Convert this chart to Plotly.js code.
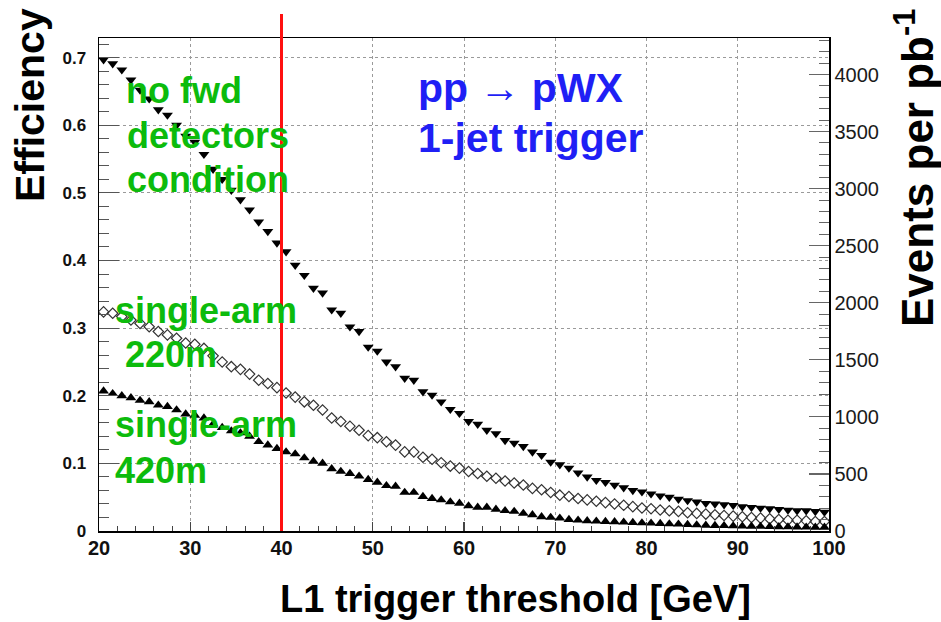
<!DOCTYPE html>
<html>
<head>
<meta charset="utf-8">
<script src="https://cdn.plot.ly/plotly-3.0.1.min.js"></script>
<style>
html,body{margin:0;padding:0;background:#fff;}
#chart{width:941px;height:622px;}
</style>
</head>
<body>
<div id="chart"></div>
<script>
// L1 trigger threshold bin centres [GeV]
const thresholds = [20.5,21.5,22.5,23.5,24.5,25.5,26.5,27.5,28.5,29.5,
  30.5,31.5,32.5,33.5,34.5,35.5,36.5,37.5,38.5,39.5,
  40.5,41.5,42.5,43.5,44.5,45.5,46.5,47.5,48.5,49.5,
  50.5,51.5,52.5,53.5,54.5,55.5,56.5,57.5,58.5,59.5,
  60.5,61.5,62.5,63.5,64.5,65.5,66.5,67.5,68.5,69.5,
  70.5,71.5,72.5,73.5,74.5,75.5,76.5,77.5,78.5,79.5,
  80.5,81.5,82.5,83.5,84.5,85.5,86.5,87.5,88.5,89.5,
  90.5,91.5,92.5,93.5,94.5,95.5,96.5,97.5,98.5,99.5];

// Efficiency, no forward detectors condition (filled down triangles)
const effNoFwd = [0.697,0.691,0.682,0.667,0.652,0.639,0.623,0.615,0.600,0.584,
  0.575,0.557,0.535,0.520,0.504,0.490,0.475,0.457,0.443,0.426,
  0.413,0.393,0.378,0.359,0.352,0.327,0.322,0.302,0.295,0.272,
  0.266,0.250,0.243,0.226,0.223,0.206,0.201,0.191,0.180,0.174,
  0.162,0.158,0.149,0.144,0.134,0.130,0.125,0.117,0.112,0.102,
  0.098,0.093,0.086,0.080,0.075,0.072,0.068,0.064,0.060,0.058,
  0.055,0.052,0.050,0.047,0.045,0.043,0.041,0.040,0.039,0.038,
  0.036,0.035,0.034,0.033,0.032,0.031,0.030,0.030,0.029,0.028];

// Efficiency, single-arm 220m (open diamonds)
const eff220 = [0.324,0.322,0.317,0.312,0.307,0.302,0.295,0.290,0.285,0.278,
  0.276,0.270,0.259,0.250,0.243,0.239,0.232,0.223,0.218,0.212,
  0.204,0.198,0.191,0.186,0.179,0.167,0.162,0.155,0.149,0.141,
  0.138,0.132,0.127,0.117,0.117,0.109,0.106,0.101,0.096,0.093,
  0.088,0.085,0.081,0.078,0.074,0.071,0.068,0.063,0.061,0.057,
  0.053,0.051,0.048,0.046,0.044,0.042,0.040,0.038,0.036,0.034,
  0.033,0.031,0.030,0.029,0.027,0.026,0.025,0.024,0.023,0.022,
  0.021,0.020,0.019,0.018,0.017,0.016,0.016,0.015,0.014,0.014];

// Efficiency, single-arm 420m (filled up triangles)
const eff420 = [0.207,0.203,0.200,0.197,0.193,0.191,0.186,0.184,0.179,0.173,
  0.171,0.167,0.158,0.153,0.148,0.145,0.140,0.132,0.127,0.122,
  0.117,0.114,0.108,0.103,0.100,0.092,0.088,0.085,0.081,0.076,
  0.072,0.067,0.066,0.057,0.057,0.051,0.048,0.046,0.043,0.041,
  0.037,0.035,0.035,0.032,0.030,0.029,0.026,0.024,0.021,0.020,
  0.019,0.017,0.016,0.015,0.0145,0.014,0.0135,0.013,0.0125,0.012,
  0.0115,0.011,0.0105,0.010,0.0095,0.009,0.0085,0.008,0.0078,0.0075,
  0.0072,0.007,0.0067,0.0064,0.0062,0.006,0.0058,0.0056,0.0055,0.0054];

const xTicks = [20,30,40,50,60,70,80,90,100];
const effTicks = [0,0.1,0.2,0.3,0.4,0.5,0.6,0.7];
const effTickText = ["0","0.1","0.2","0.3","0.4","0.5","0.6","0.7"];
const eventTicks = [0,500,1000,1500,2000,2500,3000,3500,4000];
const cutThreshold = 40;

// plot-area geometry in pixels (for placing free text)
const L = 99, T = 38, W = 730, H = 493;
const fx = px => (px - L) / W;
const fy = py => (T + H - py) / H;

const green = '#0cbb0c';
const blue = '#1f1ff5';
const fam = 'Liberation Sans, Arial, Helvetica, sans-serif';

const traces = [
  {x: thresholds, y: effNoFwd, type: 'scatter', mode: 'markers', name: 'no fwd',
   marker: {symbol: 'triangle-down', size: 9.5, color: '#000'}, hoverinfo: 'x+y'},
  {x: thresholds, y: eff220, type: 'scatter', mode: 'markers', name: '220m',
   marker: {symbol: 'diamond-open', size: 8, color: '#333', line: {width: 1.2, color: '#333'}}, hoverinfo: 'x+y'},
  {x: thresholds, y: eff420, type: 'scatter', mode: 'markers', name: '420m',
   marker: {symbol: 'triangle-up', size: 9.5, color: '#000'}, hoverinfo: 'x+y'},
  {x: [], y: [], type: 'scatter', mode: 'markers', yaxis: 'y2', showlegend: false, hoverinfo: 'skip'}
];

function txt(text, px, py, size, color, extra) {
  return Object.assign({
    text: text, xref: 'paper', yref: 'paper', x: fx(px), y: fy(py),
    xanchor: 'left', yanchor: 'middle', showarrow: false,
    font: {family: fam, size: size, color: color, weight: 'bold'}
  }, extra || {});
}

const annotations = [
  txt('no fwd', 124, 103 - 12.6, 36, green),
  txt('detectors', 125, 148 - 12.6, 36, green),
  txt('condition', 125, 192 - 12.6, 36, green),
  txt('single-arm', 113, 323 - 12.6, 36, green),
  txt('220m', 123, 367 - 12.6, 36, green),
  txt('single-arm', 113, 437 - 12.6, 36, green),
  txt('420m', 113, 483 - 12.6, 36, green),
  txt('pp \u2192 pWX', 416, 103 - 14.5, 41, blue),
  txt('1-jet trigger', 416, 152 - 14.5, 41, blue),
  txt('L1 trigger threshold [GeV]', 515, 612 - 13.5, 38, '#000', {xanchor: 'center'}),
  txt('Efficiency', 30, 105, 41, '#000', {xanchor: 'center', textangle: -90}),
  txt('Events per pb<sup>-1</sup>', 914, 168, 44, '#000', {xanchor: 'center', textangle: -90})
];

const axisLine = {showline: true, linecolor: '#000', linewidth: 1.5};

const layout = {
  width: 941, height: 622,
  margin: {l: L, r: 941 - L - W, t: T, b: 622 - T - H, pad: 0},
  paper_bgcolor: '#fff', plot_bgcolor: '#fff',
  showlegend: false,
  font: {family: fam, color: '#000'},
  xaxis: Object.assign({
    range: [20, 100], tickvals: xTicks, ticks: 'inside', ticklen: 9, tickwidth: 1.2, tickcolor: '#444',
    minor: {dtick: 2, tick0: 20, ticks: 'inside', ticklen: 5, tickwidth: 1, tickcolor: '#444', showgrid: false},
    showgrid: true, gridcolor: '#9a9a9a', griddash: 'dot', gridwidth: 1,
    mirror: true, zeroline: false, fixedrange: true,
    tickfont: {family: fam, size: 20, weight: 'bold', color: '#111'}, ticklabelstandoff: -2
  }, axisLine),
  yaxis: Object.assign({
    range: [0, 0.729], tickvals: effTicks, ticktext: effTickText, ticks: 'inside', ticklen: 20, tickwidth: 1.2, tickcolor: '#555',
    minor: {dtick: 0.02, tick0: 0, ticks: 'inside', ticklen: 10, tickwidth: 1, tickcolor: '#555', showgrid: false},
    showgrid: true, gridcolor: '#9a9a9a', griddash: 'dot', gridwidth: 1,
    zeroline: false, fixedrange: true,
    tickfont: {family: fam, size: 17, weight: 'bold', color: '#111'}, ticklabelstandoff: 8
  }, axisLine),
  yaxis2: Object.assign({
    overlaying: 'y', side: 'right', range: [0, 4320], tickvals: eventTicks,
    ticks: 'inside', ticklen: 20, tickwidth: 1.2, tickcolor: '#666',
    minor: {dtick: 100, tick0: 0, ticks: 'inside', ticklen: 10, tickwidth: 1, tickcolor: '#666', showgrid: false},
    showgrid: false, zeroline: false, fixedrange: true,
    tickfont: {family: fam, size: 20, color: '#1a1a1a'}, ticklabelstandoff: 0
  }, axisLine),
  shapes: [
    {type: 'rect', xref: 'paper', yref: 'paper', x0: fx(397), x1: fx(807), y0: fy(172), y1: fy(48),
     fillcolor: '#fff', line: {width: 0}, layer: 'between'},
    {type: 'line', xref: 'x', yref: 'paper', x0: cutThreshold, x1: cutThreshold, y0: 0, y1: fy(14),
     line: {color: '#ff1010', width: 3}, layer: 'above'}
  ],
  annotations: annotations
};

Plotly.newPlot('chart', traces, layout, {staticPlot: true, displayModeBar: false});
</script>
</body>
</html>
